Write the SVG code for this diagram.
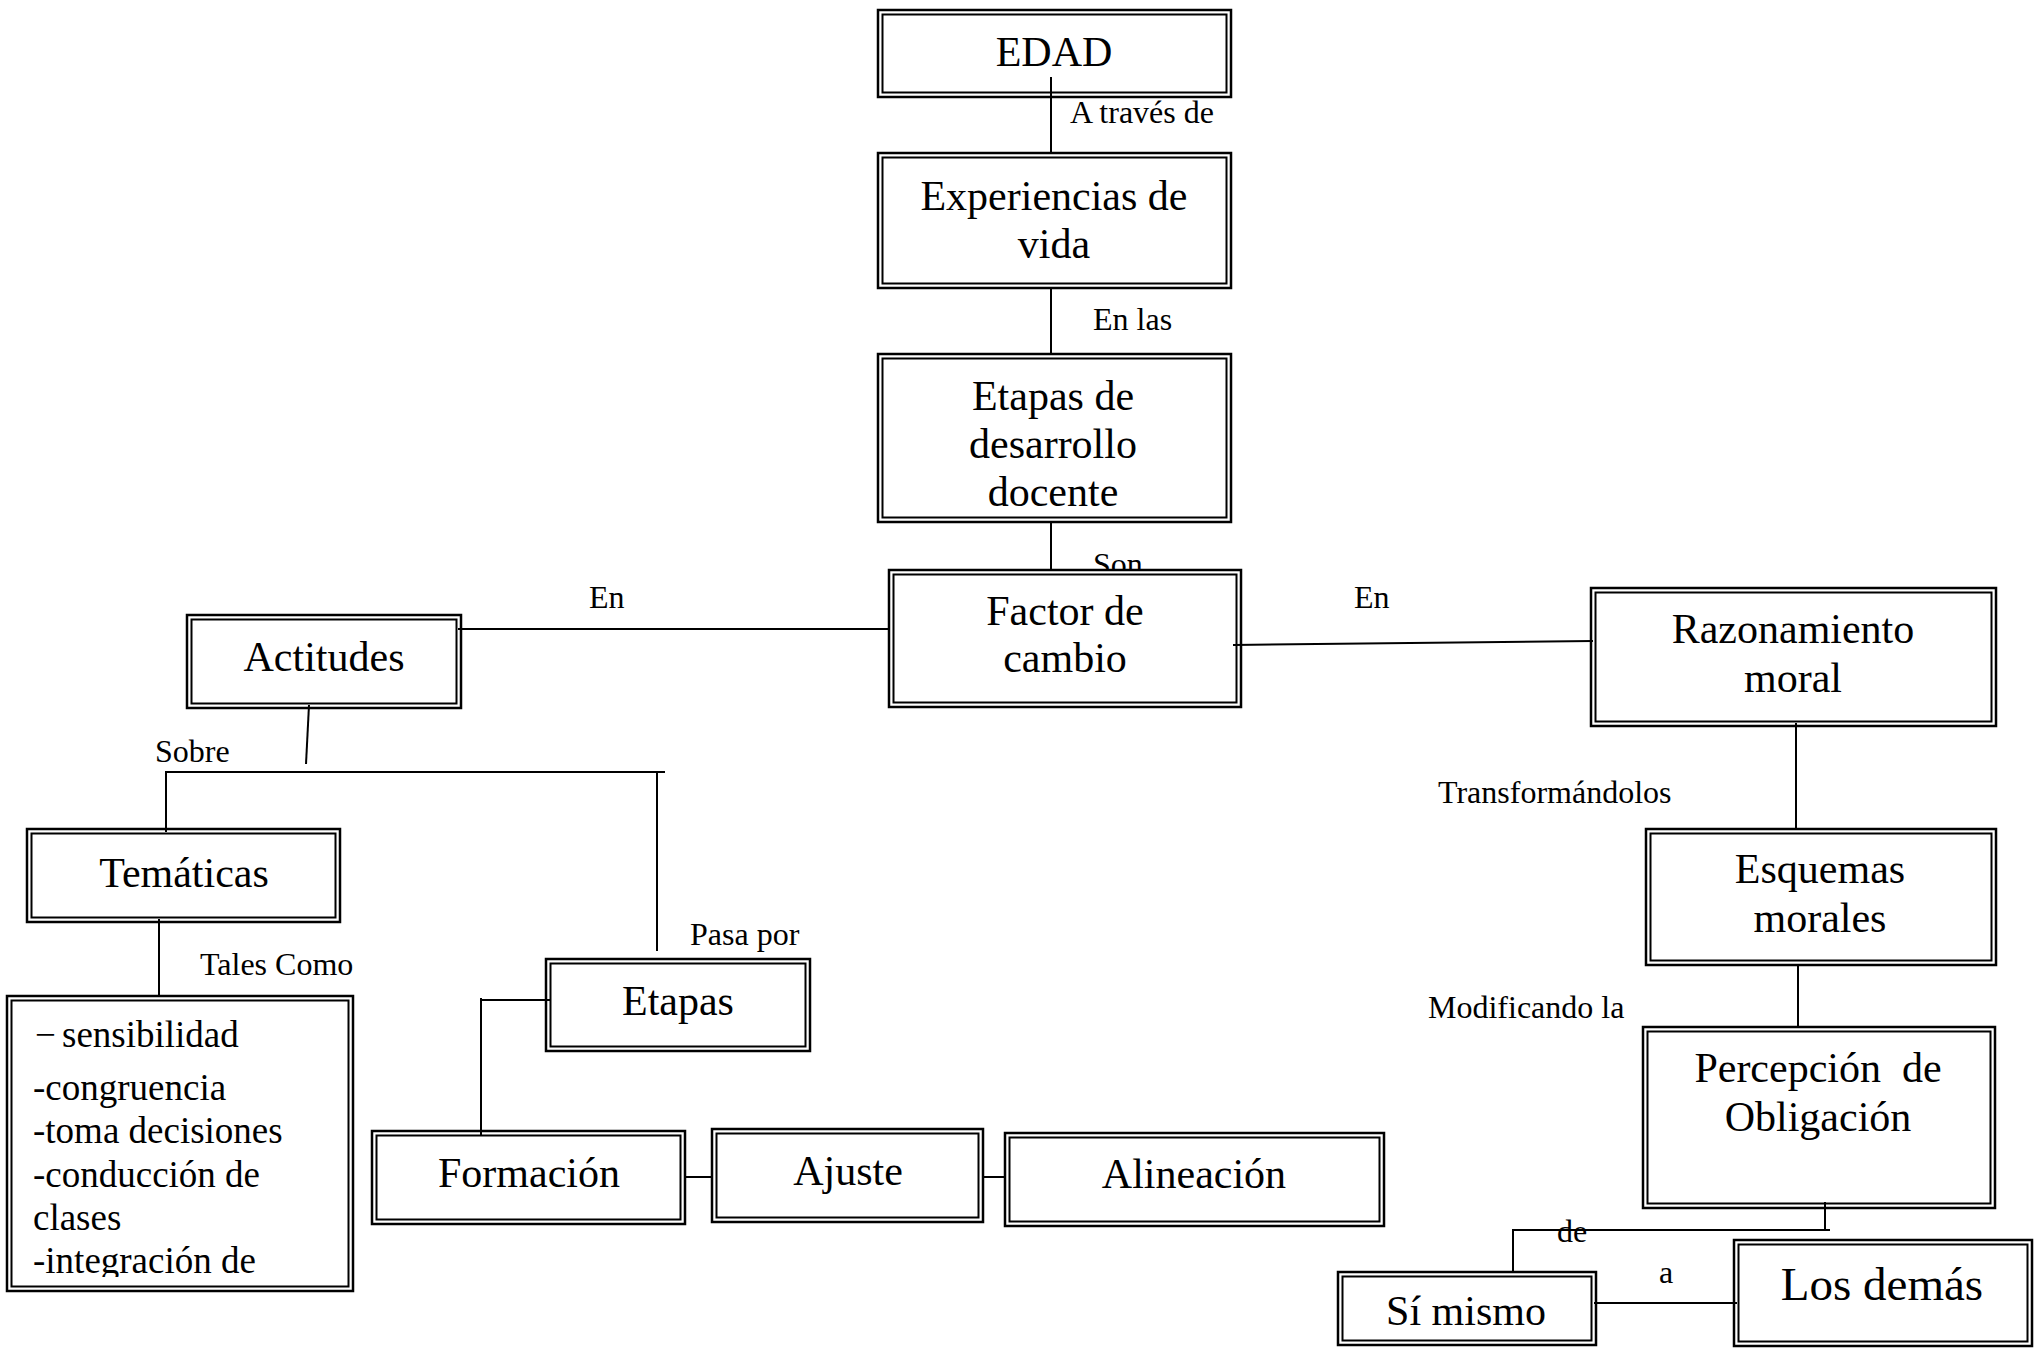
<svg xmlns="http://www.w3.org/2000/svg" width="2042" height="1348" viewBox="0 0 2042 1348">
  <style>
    .outer { fill: #fff; stroke: #000; stroke-width: 2.5; }
    .inner { fill: none; stroke: #000; stroke-width: 2; }
    .node  { font-family: "Liberation Serif", "Times New Roman", serif; font-size: 42px; fill: #000; text-anchor: middle; }
    .lbl   { font-family: "Liberation Serif", "Times New Roman", serif; font-size: 32px; fill: #000; }
    .list  { font-family: "Liberation Serif", "Times New Roman", serif; font-size: 37px; fill: #000; }
    .conn line { stroke: #000; stroke-width: 2; }
  </style>
  <defs>
    <clipPath id="listClip">
      <rect x="12" y="1001" width="336" height="276"/>
    </clipPath>
  </defs>

  <rect x="0" y="0" width="2042" height="1348" fill="#fff"/>

  <!-- label partly covered by the "Factor de cambio" box -->
  <text class="lbl" x="1093" y="575">Son</text>

  <!-- nodes: outer frame + inner frame (double border) -->
  <g id="edad">
    <rect class="outer" x="878" y="10" width="353" height="87"/>
    <rect class="inner" x="882.5" y="14.5" width="344" height="78"/>
    <text class="node" x="1054" y="66">EDAD</text>
  </g>
  <g id="experiencias">
    <rect class="outer" x="878" y="153" width="353" height="135"/>
    <rect class="inner" x="882.5" y="157.5" width="344" height="126"/>
    <text class="node" x="1054" y="210">Experiencias de</text>
    <text class="node" x="1054" y="258">vida</text>
  </g>
  <g id="etapas-desarrollo">
    <rect class="outer" x="878" y="354" width="353" height="168"/>
    <rect class="inner" x="882.5" y="358.5" width="344" height="159"/>
    <text class="node" x="1053" y="410">Etapas de</text>
    <text class="node" x="1053" y="458">desarrollo</text>
    <text class="node" x="1053" y="506">docente</text>
  </g>
  <g id="factor">
    <rect class="outer" x="889" y="570" width="352" height="137"/>
    <rect class="inner" x="893.5" y="574.5" width="343" height="128"/>
    <text class="node" x="1065" y="625">Factor de</text>
    <text class="node" x="1065" y="672">cambio</text>
  </g>
  <g id="actitudes">
    <rect class="outer" x="187" y="615" width="274" height="93"/>
    <rect class="inner" x="191.5" y="619.5" width="265" height="84"/>
    <text class="node" x="324" y="671">Actitudes</text>
  </g>
  <g id="razonamiento">
    <rect class="outer" x="1591" y="588" width="405" height="138"/>
    <rect class="inner" x="1595.5" y="592.5" width="396" height="129"/>
    <text class="node" x="1793" y="643">Razonamiento</text>
    <text class="node" x="1793" y="692">moral</text>
  </g>
  <g id="tematicas">
    <rect class="outer" x="27" y="829" width="313" height="93"/>
    <rect class="inner" x="31.5" y="833.5" width="304" height="84"/>
    <text class="node" x="184" y="887">Temáticas</text>
  </g>
  <g id="lista-tematicas">
    <rect class="outer" x="7" y="996" width="346" height="295"/>
    <rect class="inner" x="11.5" y="1000.5" width="337" height="286"/>
    <g clip-path="url(#listClip)">
      <text class="list" x="35" y="1047">−<tspan x="62">sensibilidad</tspan></text>
      <text class="list" x="33" y="1100">-congruencia</text>
      <text class="list" x="33" y="1143">-toma decisiones</text>
      <text class="list" x="33" y="1187">-conducción de</text>
      <text class="list" x="33" y="1230">clases</text>
      <text class="list" x="33" y="1273">-integración de</text>
    </g>
  </g>
  <g id="etapas">
    <rect class="outer" x="546" y="959" width="264" height="92"/>
    <rect class="inner" x="550.5" y="963.5" width="255" height="83"/>
    <text class="node" x="678" y="1015">Etapas</text>
  </g>
  <g id="formacion">
    <rect class="outer" x="372" y="1131" width="313" height="93"/>
    <rect class="inner" x="376.5" y="1135.5" width="304" height="84"/>
    <text class="node" x="529" y="1187">Formación</text>
  </g>
  <g id="ajuste">
    <rect class="outer" x="712" y="1129" width="271" height="93"/>
    <rect class="inner" x="716.5" y="1133.5" width="262" height="84"/>
    <text class="node" x="848" y="1185">Ajuste</text>
  </g>
  <g id="alineacion">
    <rect class="outer" x="1005" y="1133" width="379" height="93"/>
    <rect class="inner" x="1009.5" y="1137.5" width="370" height="84"/>
    <text class="node" x="1194" y="1188">Alineación</text>
  </g>
  <g id="esquemas">
    <rect class="outer" x="1646" y="829" width="350" height="136"/>
    <rect class="inner" x="1650.5" y="833.5" width="341" height="127"/>
    <text class="node" x="1820" y="883">Esquemas</text>
    <text class="node" x="1820" y="932">morales</text>
  </g>
  <g id="percepcion">
    <rect class="outer" x="1643" y="1027" width="352" height="181"/>
    <rect class="inner" x="1647.5" y="1031.5" width="343" height="172"/>
    <text class="node" x="1818" y="1082" xml:space="preserve">Percepción  de</text>
    <text class="node" x="1818" y="1131">Obligación</text>
  </g>
  <g id="si-mismo">
    <rect class="outer" x="1338" y="1272" width="258" height="73"/>
    <rect class="inner" x="1342.5" y="1276.5" width="249" height="64"/>
    <text class="node" x="1466" y="1325">Sí mismo</text>
  </g>
  <g id="los-demas">
    <rect class="outer" x="1734" y="1240" width="298" height="106"/>
    <rect class="inner" x="1738.5" y="1244.5" width="289" height="97"/>
    <text class="node" x="1882" y="1300" style="font-size:47px">Los demás</text>
  </g>

  <!-- connectors -->
  <g id="connectors" class="conn">
    <line x1="1051" y1="77" x2="1051" y2="153"/>
    <line x1="1051" y1="289" x2="1051" y2="354"/>
    <line x1="1051" y1="523" x2="1051" y2="570"/>
    <line x1="458" y1="629" x2="888" y2="629"/>
    <line x1="1233" y1="645" x2="1593" y2="641"/>
    <line x1="1796" y1="723" x2="1796" y2="829"/>
    <line x1="1798" y1="965" x2="1798" y2="1028"/>
    <line x1="309" y1="705" x2="306" y2="764"/>
    <line x1="165" y1="772" x2="665" y2="772"/>
    <line x1="166" y1="771" x2="166" y2="832"/>
    <line x1="657" y1="771" x2="657" y2="951"/>
    <line x1="159" y1="919" x2="159" y2="996"/>
    <line x1="481" y1="1000" x2="551" y2="1000"/>
    <line x1="481" y1="998" x2="481" y2="1135"/>
    <line x1="685" y1="1177" x2="712" y2="1177"/>
    <line x1="983" y1="1177" x2="1005" y2="1177"/>
    <line x1="1825" y1="1202" x2="1825" y2="1231"/>
    <line x1="1512" y1="1230" x2="1830" y2="1230"/>
    <line x1="1513" y1="1229" x2="1513" y2="1273"/>
    <line x1="1594" y1="1303" x2="1737" y2="1303"/>
  </g>

  <!-- connector labels -->
  <g id="labels">
    <text class="lbl" x="1070" y="123">A través de</text>
    <text class="lbl" x="1093" y="330">En las</text>
    <text class="lbl" x="589" y="608">En</text>
    <text class="lbl" x="1354" y="608">En</text>
    <text class="lbl" x="155" y="762">Sobre</text>
    <text class="lbl" x="200" y="975">Tales Como</text>
    <text class="lbl" x="690" y="945">Pasa por</text>
    <text class="lbl" x="1438" y="803">Transformándolos</text>
    <text class="lbl" x="1428" y="1018">Modificando la</text>
    <text class="lbl" x="1557" y="1242">de</text>
    <text class="lbl" x="1659" y="1283">a</text>
  </g>
</svg>
